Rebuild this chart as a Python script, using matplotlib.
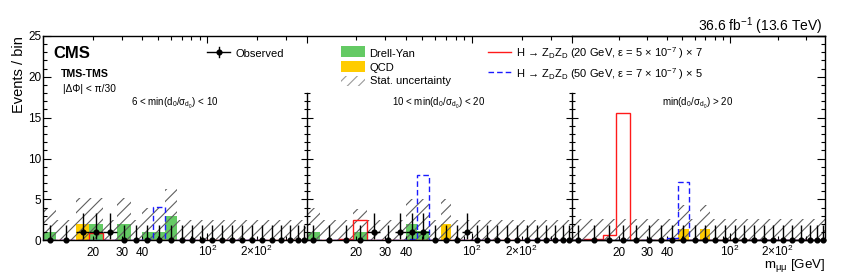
import numpy as np
import matplotlib
matplotlib.use('Agg')
import matplotlib.pyplot as plt
from matplotlib.patches import Rectangle
from matplotlib.lines import Line2D

plt.rcParams['font.family'] = ['Liberation Sans', 'DejaVu Sans']
plt.rcParams['mathtext.fontset'] = 'custom'
plt.rcParams['mathtext.rm'] = 'Liberation Sans'
plt.rcParams['mathtext.it'] = 'Liberation Sans:italic'
plt.rcParams['mathtext.bf'] = 'Liberation Sans:bold'
plt.rcParams['mathtext.sf'] = 'Liberation Sans'
plt.rcParams['hatch.linewidth'] = 0.8

# ---------------- data ----------------
bin_edges = [10, 12, 15.8, 19, 23.2, 28, 34.2, 39.8, 46.8, 55.2, 65.1, 75.2, 86.5,
             99.6, 114.6, 131.9, 151.8, 174.7, 201, 231, 264, 300, 338, 373, 400]

panel_labels = [r'6 < min(d$_{0}$/σ$_{\mathrm{d_{0}}}$) < 10',
                r'10 < min(d$_{0}$/σ$_{\mathrm{d_{0}}}$) < 20',
                r'min(d$_{0}$/σ$_{\mathrm{d_{0}}}$) > 20']

# panel 1: 6 < min(d0/sigma) < 10
p1_dy    = [1, 0, 0, 2, 0, 2, 0, 1, 1, 3, 0, 0, 0, 0, 0, 0, 0, 0, 0, 0, 0, 0, 0, 0]
p1_qcd   = [0, 0, 2, 0, 0, 0, 0, 0, 0, 0, 0, 0, 0, 0, 0, 0, 0, 0, 0, 0, 0, 0, 0, 0]
p1_obs   = [0, 0, 1, 1, 1, 0, 0, 0, 0, 0, 0, 0, 0, 0, 0, 0, 0, 0, 0, 0, 0, 0, 0, 0]
p1_stat  = [3.9, 2.45, 5.2, 5.2, 2.45, 5.2, 2.45, 4.0, 4.0, 6.3, 2.45, 2.45, 2.45,
            2.45, 2.45, 2.45, 2.45, 2.45, 2.45, 2.45, 2.45, 2.45, 2.45, 2.45]
p1_sig20 = [0, 0, 0, 0.95, 0, 0, 0, 0, 0, 0, 0, 0, 0, 0, 0, 0, 0, 0, 0, 0, 0, 0, 0, 0]
p1_sig50 = [0, 0, 0, 0, 0, 0, 0, 0.15, 4.1, 0, 0, 0, 0, 0, 0, 0, 0, 0, 0, 0, 0, 0, 0, 0]

# panel 2: 10 < min(d0/sigma) < 20
p2_dy    = [1, 0, 0, 1, 0, 0, 0, 2, 1.1, 0, 0, 0, 0, 0, 0, 0, 0, 0, 0, 0, 0, 0, 0, 0]
p2_qcd   = [0, 0, 0, 0, 0, 0, 0, 0, 0, 0, 2, 0, 0, 0, 0, 0, 0, 0, 0, 0, 0, 0, 0, 0]
p2_obs   = [0, 0, 0, 0, 1, 0, 1, 1, 1, 0, 0, 0, 1, 0, 0, 0, 0, 0, 0, 0, 0, 0, 0, 0]
p2_stat  = [3.9, 2.45, 2.45, 3.85, 2.45, 2.45, 2.45, 5.1, 5.1, 2.45, 5.0, 2.45, 2.45,
            2.45, 2.45, 2.45, 2.45, 2.45, 2.45, 2.45, 2.45, 2.45, 2.45, 2.45]
p2_sig20 = [0, 0, 0.1, 2.5, 0, 0, 0, 0, 0, 0, 0, 0, 0, 0, 0, 0, 0, 0, 0, 0, 0, 0, 0, 0]
p2_sig50 = [0, 0, 0, 0, 0, 0, 0, 0.2, 8.0, 0, 0, 0, 0, 0, 0, 0, 0, 0, 0, 0, 0, 0, 0, 0]

# panel 3: min(d0/sigma) > 20
p3_dy    = [0, 0, 0, 0, 0, 0, 0, 0, 0, 0, 0, 0, 0, 0, 0, 0, 0, 0, 0, 0, 0, 0, 0, 0]
p3_qcd   = [0, 0, 0, 0, 0, 0, 0, 0, 1.35, 0, 1.35, 0, 0, 0, 0, 0, 0, 0, 0, 0, 0, 0, 0, 0]
p3_obs   = [0, 0, 0, 0, 0, 0, 0, 0, 0, 0, 0, 0, 0, 0, 0, 0, 0, 0, 0, 0, 0, 0, 0, 0]
p3_stat  = [2.55, 2.55, 2.55, 2.55, 2.55, 2.55, 2.55, 2.55, 4.3, 2.55, 4.3, 2.55, 2.55,
            2.55, 2.55, 2.55, 2.55, 2.55, 2.55, 2.55, 2.55, 2.55, 2.55, 2.55]
p3_sig20 = [0, 0.18, 0.62, 15.6, 0, 0, 0, 0, 0, 0, 0, 0, 0, 0, 0, 0, 0, 0, 0, 0, 0, 0, 0, 0]
p3_sig50 = [0, 0, 0, 0, 0, 0, 0, 0.25, 7.1, 0, 0, 0, 0, 0, 0, 0, 0, 0, 0, 0, 0, 0, 0, 0]

# Garwood 68% intervals for observed counts: count -> (down, up)
poisson_err = {0: (0.0, 1.84), 1: (0.83, 2.30)}

x_major = [10, 100]
x_major_labels = ['', r'10$^{2}$']
x_minor = [20, 30, 40, 50, 60, 70, 80, 90, 200, 300]
x_minor_labels = ['20', '30', '40', '', '', '', '', '', r'2×10$^{2}$', '']

# ---------------- style ----------------
C_DY = '#64ca64'
C_QCD = '#ffcc00'
C_HATCH = '#5e5e5e'
W, H = 847, 274

fig = plt.figure(figsize=(W / 100, H / 100), dpi=100)

def fx(px):
    return px / W

def fy(py):
    return 1 - py / H

ax_bottom, ax_top = 240.3, 35.8
panels_px = [(43.4, 306.0), (306.5, 571.6), (571.6, 825.4)]
axes = []
for (l, r) in panels_px:
    ax = fig.add_axes([fx(l), fy(ax_bottom), (r - l) / W, (ax_bottom - ax_top) / H])
    axes.append(ax)

data = [
    (p1_dy, p1_qcd, p1_obs, p1_stat, p1_sig20, p1_sig50),
    (p2_dy, p2_qcd, p2_obs, p2_stat, p2_sig20, p2_sig50),
    (p3_dy, p3_qcd, p3_obs, p3_stat, p3_sig20, p3_sig50),
]

e = np.array(bin_edges, dtype=float)
centers = np.sqrt(e[:-1] * e[1:])

tw = axes[2].twinx()

for i, (ax, (dy, qcd, obs, stat, s20, s50)) in enumerate(zip(axes, data)):
    dy = np.array(dy, float); qcd = np.array(qcd, float)
    obs = np.array(obs, float); stat = np.array(stat, float)
    ax.set_xscale('log')
    ax.set_xlim(10, 400)
    ax.set_ylim(0, 25)
    ax.stairs(dy, e, fill=True, color=C_DY, lw=0, zorder=1)
    ax.stairs(dy + qcd, e, baseline=dy, fill=True, color=C_QCD, lw=0, zorder=1.1)
    ax.stairs(stat, e, baseline=0, fill=True, facecolor='none', edgecolor=C_HATCH,
              hatch='///', lw=0, zorder=1.5)
    ax.stairs(np.array(s20, float), e, color='#ff1a1a', lw=1.0, zorder=2)
    ax.stairs(np.array(s50, float), e, color='#1a1aff', lw=1.0, ls=(0, (4, 2.2)), zorder=2)

    dn = np.array([poisson_err[int(n)][0] for n in obs])
    up = np.array([poisson_err[int(n)][1] for n in obs])
    has = obs > 0
    xlo = np.where(has, centers - e[:-1], 0)
    xhi = np.where(has, e[1:] - centers, 0)
    cont = ax.errorbar(centers, obs, yerr=[dn, up], xerr=[xlo, xhi], fmt='o', color='k',
                       ms=3.4, lw=1.0, capsize=0, zorder=3)
    cont.lines[0].set_clip_on(False)

    ax.set_xticks(x_major, x_major_labels)
    ax.set_xticks(x_minor, x_minor_labels, minor=True)
    ax.tick_params(axis='x', which='both', direction='in', top=True, bottom=True,
                   labelsize=8.5, pad=11.3, width=0.8)
    ax.tick_params(axis='x', which='major', length=5)
    ax.tick_params(axis='x', which='minor', length=3)
    for t in ax.xaxis.get_major_ticks() + ax.xaxis.get_minor_ticks():
        t.label1.set_verticalalignment('baseline')

    for s in ax.spines.values():
        s.set_linewidth(1.0)
    ax.spines['right'].set_visible(False)

    if i == 0:
        ax.set_yticks([0, 5, 10, 15, 20, 25])
        ax.set_yticks(range(26), minor=True)
        ax.tick_params(axis='y', which='both', direction='in', left=True, right=False,
                       labelsize=8.5, pad=1.5, width=0.8)
        ax.tick_params(axis='y', which='major', length=6)
        ax.tick_params(axis='y', which='minor', length=3)
    else:
        ax.spines['left'].set_bounds(0, 18)
        ax.set_yticks([0, 5, 10, 15])
        ax.set_yticks(range(19), minor=True)
        ax.tick_params(axis='y', which='both', direction='inout', left=True, right=False,
                       labelleft=False, width=0.8)
        ax.tick_params(axis='y', which='major', length=8.5)
        ax.tick_params(axis='y', which='minor', length=4.3)

tw.set_ylim(0, 25)
tw.set_yticks([0, 5, 10, 15, 20, 25])
tw.set_yticks(range(26), minor=True)
tw.tick_params(axis='y', which='both', direction='in', labelright=False, width=0.8)
tw.tick_params(axis='y', which='major', length=6)
tw.tick_params(axis='y', which='minor', length=3)
for s in tw.spines.values():
    s.set_linewidth(1.0)
tw.spines['left'].set_visible(False)

# ---------------- overlay: texts and legend ----------------
ov = fig.add_axes([0, 0, 1, 1], zorder=10)
ov.set_xlim(0, W)
ov.set_ylim(H, 0)
ov.axis('off')
ov.patch.set_alpha(0)

ov.text(19, 36.5, 'Events / bin', rotation=90, ha='center', va='top', fontsize=10.5)
ov.text(825.5, 268.3, r'm$_{\mathrm{\mu\mu}}$ [GeV]', ha='right', va='baseline', fontsize=9.6)
ov.text(823, 30.7, r'36.6 fb$^{-1}$ (13.6 TeV)', ha='right', va='baseline', fontsize=10)
ov.text(53, 58.4, 'CMS', ha='left', va='baseline', fontsize=12, fontweight='bold')
ov.text(60.5, 76.6, 'TMS-TMS', ha='left', va='baseline', fontsize=7.6, fontweight='bold')
ov.text(63, 92.4, '|ΔΦ| < π/30', ha='left', va='baseline', fontsize=7.3)

for cx, lab in zip([175, 439, 698], panel_labels):
    ov.text(cx, 105.8, lab, ha='center', va='baseline', fontsize=7)

# Observed
ov.add_line(Line2D([207, 230], [51.5, 51.5], color='k', lw=1.0))
ov.add_line(Line2D([218.5, 218.5], [46.7, 56.5], color='k', lw=1.0))
ov.plot([218.5], [51.5], 'o', color='k', ms=3.4)
ov.text(235.5, 56.6, 'Observed', ha='left', va='baseline', fontsize=8)

# Drell-Yan / QCD / Stat
ov.add_patch(Rectangle((340.7, 46.0), 24.3, 11.3, facecolor=C_DY, lw=0))
ov.text(369.5, 56.6, 'Drell-Yan', ha='left', va='baseline', fontsize=8)
ov.add_patch(Rectangle((340.7, 61.0), 24.3, 10.7, facecolor=C_QCD, lw=0))
ov.text(369.5, 70.7, 'QCD', ha='left', va='baseline', fontsize=8)
ov.add_patch(Rectangle((340.7, 76.0), 24.3, 10.0, facecolor='none', edgecolor='#9a9a9a',
                       hatch='///', lw=0))
ov.text(369.5, 84.3, 'Stat. uncertainty', ha='left', va='baseline', fontsize=8)

# Signals
ov.add_line(Line2D([488.3, 510.7], [51.7, 51.7], color='#ff1a1a', lw=1.0))
ov.text(516.5, 57.2,
        r'H → Z$_{\mathrm{D}}$Z$_{\mathrm{D}}$ (20 GeV, ε = 5 × 10$^{-7}$ ) × 7',
        ha='left', va='baseline', fontsize=8)
ov.add_line(Line2D([488.3, 510.7], [72.3, 72.3], color='#1a1aff', lw=1.0, ls=(0, (4, 2.2))))
ov.text(516.5, 77.7,
        r'H → Z$_{\mathrm{D}}$Z$_{\mathrm{D}}$ (50 GeV, ε = 7 × 10$^{-7}$ ) × 5',
        ha='left', va='baseline', fontsize=8)

fig.savefig('out.png', dpi=100)
